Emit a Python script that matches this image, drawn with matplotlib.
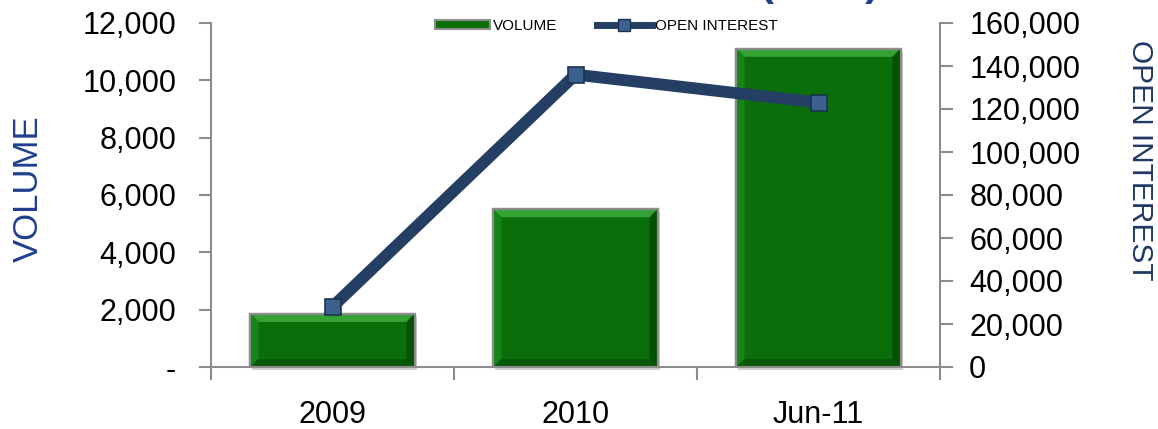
import matplotlib
matplotlib.use("Agg")
import matplotlib.pyplot as plt
from matplotlib.patches import Polygon, Rectangle
from matplotlib.lines import Line2D
from matplotlib.ticker import FuncFormatter

categories = ["2009", "2010", "Jun-11"]
volume = [1850, 5500, 11100]
open_interest = [28000, 136000, 123000]
left_ticks = [0, 2000, 4000, 6000, 8000, 10000, 12000]
right_ticks = [0, 20000, 40000, 60000, 80000, 100000, 120000, 140000, 160000]

plt.rcParams['font.family'] = ['Liberation Sans', 'DejaVu Sans']

W, H = 1158, 429
fig = plt.figure(figsize=(W / 100, H / 100), dpi=100)
ax = fig.add_axes([211 / W, 1 - 367 / H, (940 - 211) / W, (367 - 23) / H])
ax2 = ax.twinx()

x = list(range(len(categories)))
bar_w = 0.675
GREEN = "#0a6e0a"
NAVY_LINE = "#243f63"
GRAY = "#8c8c8c"

ax.set_xlim(-0.5, len(categories) - 0.5)
ax.set_ylim(0, 12000)
ax2.set_ylim(0, 160000)

# bevel sizes in pixels converted to data units
px_x = (len(categories)) / (940 - 211)
px_y = 12000 / (367 - 23)
bx, by = 8 * px_x, 8 * px_y

for xi, v in zip(x, volume):
    l, r = xi - bar_w / 2, xi + bar_w / 2
    # shadow
    ax.add_patch(Rectangle((l + 2 * px_x, -3 * px_y), bar_w, v, facecolor="#b0b0b0",
                           edgecolor="none", zorder=1, alpha=0.6, clip_on=False))
    ax.add_patch(Rectangle((l, 0), bar_w, v, facecolor=GREEN, edgecolor=GRAY,
                           linewidth=1.6, zorder=2))
    b = min(by, v * 0.3)
    # top bevel (light)
    ax.add_patch(Polygon([(l, v), (r, v), (r - bx, v - b), (l + bx, v - b)],
                         closed=True, facecolor="#34a234", edgecolor="none", zorder=3))
    # left bevel
    ax.add_patch(Polygon([(l, v), (l + bx, v - b), (l + bx, b), (l, 0)],
                         closed=True, facecolor="#168416", edgecolor="none", zorder=3))
    # right bevel (dark)
    ax.add_patch(Polygon([(r, v), (r - bx, v - b), (r - bx, b), (r, 0)],
                         closed=True, facecolor="#045004", edgecolor="none", zorder=3))
    # bottom bevel (dark)
    ax.add_patch(Polygon([(l, 0), (r, 0), (r - bx, b), (l + bx, b)],
                         closed=True, facecolor="#055805", edgecolor="none", zorder=3))
    ax.add_patch(Rectangle((l, 0), bar_w, v, facecolor="none", edgecolor=GRAY,
                           linewidth=1.6, zorder=4))

ax2.plot(x, open_interest, color=NAVY_LINE, linewidth=8.5, solid_capstyle="butt",
         zorder=5, marker="s", markersize=11, markerfacecolor="#3d618f",
         markeredgecolor="#1c3350", markeredgewidth=1.2)

ax.set_zorder(1)
ax2.set_zorder(2)
ax2.patch.set_visible(False)

# spines
for a in (ax, ax2):
    a.spines['top'].set_visible(False)
    for s in ('left', 'right', 'bottom'):
        a.spines[s].set_color(GRAY)
        a.spines[s].set_linewidth(1.5)
ax.spines['right'].set_visible(False)
ax2.spines['left'].set_visible(False)
ax2.spines['bottom'].set_visible(False)

ax.set_xticks([i - 0.5 for i in range(len(categories) + 1)])
ax.set_xticklabels([])
ax.set_xticks(x, minor=True)
ax.set_xticklabels(categories, minor=True)
ax.tick_params(axis='x', which='major', direction='out', length=9, width=1.5, color=GRAY)
ax.tick_params(axis='x', which='minor', length=0, pad=24, labelsize=22)

ax.set_yticks(left_ticks)
ax.yaxis.set_major_formatter(FuncFormatter(lambda v, p: "-" if v == 0 else f"{int(v):,}"))
ax.tick_params(axis='y', direction='out', length=9, width=1.5, color=GRAY, labelsize=22, pad=16)

ax2.set_yticks(right_ticks)
ax2.yaxis.set_major_formatter(FuncFormatter(lambda v, p: f"{int(v):,}"))
ax2.tick_params(axis='y', direction='out', length=9, width=1.5, color=GRAY, labelsize=22, pad=12)

fig.text(28 / W, 1 - 189 / H, "VOLUME", rotation=90, color="#1f3f8f", fontsize=25,
         ha="center", va="center")
fig.text(1140 / W, 1 - 160 / H, "OPEN INTEREST", rotation=-90, color="#1f3864", fontsize=21.5,
         ha="center", va="center")

# cropped title at the very top
fig.text(820 / W, 1 + 5 / H, "(MXN)", color="#1f3f8f", fontsize=30, fontweight="bold",
         ha="center", va="baseline")

handles = [Rectangle((0, 0), 1, 1, facecolor=GREEN, edgecolor=GRAY, linewidth=1.5),
           Line2D([0], [0], color=NAVY_LINE, linewidth=5, marker="s", markersize=9,
                  markerfacecolor="#3d618f", markeredgecolor="#1c3350")]
fig.legend(handles, ["VOLUME", "OPEN INTEREST"], loc="center", ncol=2,
           bbox_to_anchor=(606 / W, 1 - 26 / H), frameon=False, fontsize=11,
           handlelength=3.6, handletextpad=0.2, columnspacing=2.6, handleheight=0.5)

fig.savefig("out.png", dpi=100)
